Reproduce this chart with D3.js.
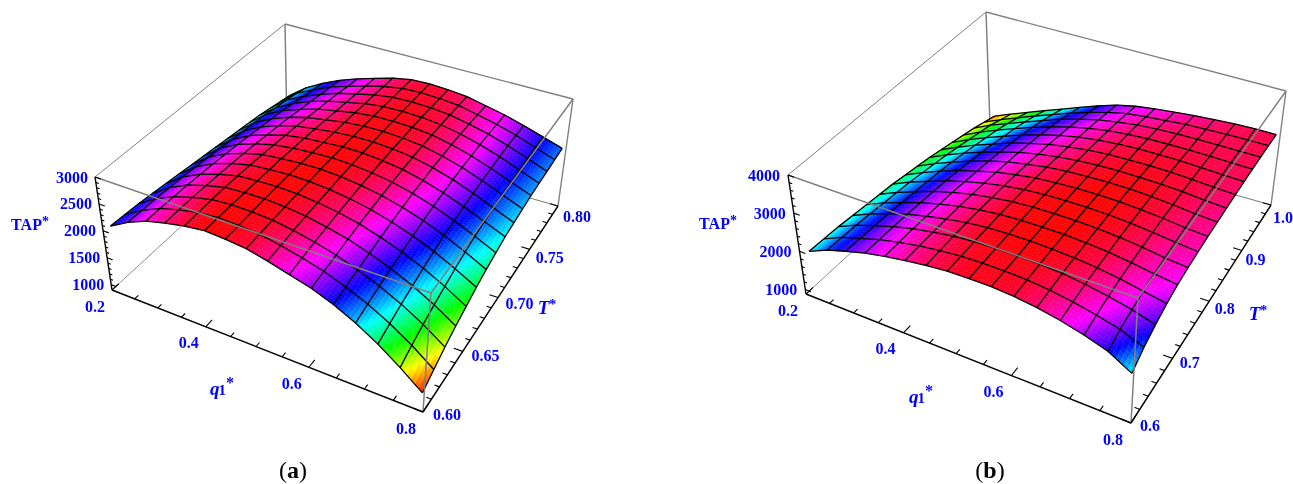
<!DOCTYPE html>
<html><head><meta charset="utf-8">
<script src="https://cdn.jsdelivr.net/npm/d3@7"></script>
<style>html,body{margin:0;padding:0;background:#fff}svg{display:block}</style></head>
<body><svg id="c" width="1293" height="484"></svg>
<script>
// TAP* values: one list per q1* mesh line (q1* rising), each running along T* from low to high
const tapA = [
[2145,2130,2115,2085,2055,2025,1995,1965,1935,1905,1875,1845,1815,1770,1725,1680],
[2340,2332,2325,2310,2295,2272,2250,2220,2190,2160,2130,2100,2055,2025,1980,1920],
[2490,2490,2482,2475,2460,2445,2422,2400,2370,2340,2310,2280,2235,2190,2145,2100],
[2580,2588,2588,2580,2572,2558,2542,2520,2490,2468,2438,2400,2370,2325,2295,2250],
[2655,2662,2670,2670,2662,2648,2632,2610,2588,2565,2535,2505,2475,2445,2400,2370],
[2700,2700,2700,2692,2685,2678,2670,2655,2640,2618,2595,2572,2550,2528,2505,2475],
[2678,2685,2692,2700,2700,2700,2692,2685,2670,2660,2650,2640,2625,2610,2590,2575],
[2640,2655,2670,2678,2685,2692,2700,2700,2695,2690,2685,2680,2670,2660,2650,2640],
[2550,2580,2610,2632,2648,2662,2678,2685,2692,2692,2690,2685,2680,2672,2665,2655],
[2445,2490,2528,2558,2588,2610,2632,2648,2662,2670,2672,2675,2670,2660,2650,2635],
[2340,2385,2425,2468,2505,2535,2565,2588,2610,2625,2632,2635,2630,2625,2615,2600],
[2190,2240,2290,2340,2385,2430,2468,2498,2520,2542,2550,2558,2558,2550,2535,2520],
[2005,2075,2135,2195,2250,2300,2345,2380,2405,2430,2445,2455,2462,2462,2452,2440],
[1780,1870,1950,2020,2085,2145,2195,2235,2265,2290,2310,2325,2340,2345,2345,2335],
[1515,1630,1730,1815,1890,1960,2020,2070,2110,2135,2160,2180,2195,2210,2215,2220],
[1225,1350,1470,1575,1665,1755,1830,1890,1950,1980,2010,2040,2055,2070,2085,2100]];
const tapB = [
[2100,2082,2064,2028,1992,1956,1920,1866,1812,1758,1686,1614,1542,1470,1380,1290],
[2316,2298,2280,2244,2208,2172,2136,2082,2028,1974,1902,1830,1758,1686,1578,1470],
[2478,2460,2442,2424,2388,2352,2316,2280,2226,2172,2100,2028,1956,1866,1758,1650],
[2622,2613,2604,2586,2559,2532,2496,2460,2406,2352,2280,2208,2136,2046,1945,1830],
[2730,2730,2730,2712,2694,2676,2640,2604,2568,2514,2460,2388,2316,2226,2118,2005],
[2820,2829,2829,2820,2811,2793,2766,2739,2703,2658,2604,2550,2478,2406,2298,2190],
[2892,2901,2910,2910,2901,2883,2865,2838,2802,2766,2730,2676,2622,2550,2460,2370],
[2946,2955,2964,2964,2964,2955,2937,2919,2892,2856,2820,2784,2730,2676,2604,2532],
[2964,2973,2982,2991,2991,2991,2982,2964,2946,2919,2892,2856,2820,2766,2712,2640],
[2964,2973,2982,3000,3000,3000,3000,2991,2973,2955,2937,2910,2874,2838,2775,2712],
[2928,2955,2973,2982,3000,3000,3000,3000,2991,2973,2955,2937,2910,2874,2820,2766],
[2856,2901,2937,2955,2973,2982,2991,2991,2991,2973,2964,2946,2919,2901,2865,2820],
[2748,2811,2865,2901,2928,2946,2955,2964,2973,2964,2955,2946,2928,2910,2883,2856],
[2604,2694,2766,2820,2856,2883,2901,2919,2928,2937,2937,2928,2919,2910,2901,2892],
[2424,2550,2640,2712,2766,2802,2838,2856,2874,2892,2901,2910,2910,2910,2910,2910],
[2100,2316,2478,2604,2694,2748,2784,2820,2838,2856,2874,2892,2901,2910,2910,2910]];

const qTicksMajor = [0.2,0.4,0.6,0.8];
const tTicksMajorA = [0.60,0.65,0.70,0.75,0.80];
const tTicksMajorB = [0.6,0.7,0.8,0.9,1.0];
const zTicksMajorA = [1000,1500,2000,2500,3000];
const zTicksMajorB = [1000,2000,3000,4000];

const panels = [
 {tap:tapA, qDom:[0.2,0.8], tDom:[0.6,0.8], zDom:[900,3000], hueDom:[1200,2700],
  uSpan:[0.03,0.995], vSpan:[0,0.975],
  qMajor:qTicksMajor, qStep:0.05, tMajor:tTicksMajorA, tStep:0.01, zMajor:zTicksMajorA, zStep:100, tFmt:".2f",
  floor:[[112,290],[423,412],[558,206],[287,129]], top:[[95,177],[431,293],[573,99],[285,24]],
  qOff:[-17,16], tOff0:[24,2], tOff1:[19,10], zOff:-7,
  tapPos:[30,224], q1Pos:[222,388], tStarPos:[547,307], cap:"a", capX:293},
 {tap:tapB, qDom:[0.2,0.8], tDom:[0.6,1.0], zDom:[880,4000], hueDom:[1200,3000],
  uSpan:[0.035,0.995], vSpan:[0,0.975],
  qMajor:qTicksMajor, qStep:0.05, tMajor:tTicksMajorB, tStep:0.02, zMajor:zTicksMajorB, zStep:200, tFmt:".1f",
  floor:[[806,294],[1131,423],[1271,205],[990,125]], top:[[788,175],[1138,298],[1286,91],[986,12]],
  qOff:[-18,16], tOff0:[19,2], tOff1:[12,12], zOff:-8,
  tapPos:[718,223], q1Pos:[921,396], tStarPos:[1258,313], cap:"b", capX:990}
];

function homography(p){
  const [[x0,y0],[x1,y1],[x2,y2],[x3,y3]] = p;
  const dx1=x1-x2,dx2=x3-x2,sx=x0-x1+x2-x3,dy1=y1-y2,dy2=y3-y2,sy=y0-y1+y2-y3;
  const den=dx1*dy2-dx2*dy1;
  const g=(sx*dy2-dx2*sy)/den,h=(dx1*sy-sx*dy1)/den;
  const a=x1-x0+g*x1,b=x3-x0+h*x3,d=y1-y0+g*y1,e=y3-y0+h*y3;
  return (u,v)=>{const w=g*u+h*v+1;return [(a*u+b*v+x0)/w,(d*u+e*v+y0)/w];};
}

const svg = d3.select("#c");
const BLUE="#0000ff", GREY="#808080", SUB=6;
const root = svg.append("g").style("filter","blur(0.45px)");

panels.forEach(P=>{
  const g = root.append("g");
  const H0=homography(P.floor), H1=homography(P.top);
  const qS=d3.scaleLinear().domain(P.qDom).range([0,1]);
  const tS=d3.scaleLinear().domain(P.tDom).range([0,1]);
  const zS=d3.scaleLinear().domain(P.zDom).range([0,1]);
  const hue=d3.scaleLinear().domain(P.hueDom).range([0,360]).clamp(true);
  const proj=(u,v,z)=>{const a=H0(u,v),b=H1(u,v),f=zS(z);return [a[0]+(b[0]-a[0])*f,a[1]+(b[1]-a[1])*f];};
  const line=d3.line();
  const n=P.tap.length-1, m=P.tap[0].length-1;
  const uOf=d3.scaleLinear().domain([0,n]).range(P.uSpan);
  const vOf=d3.scaleLinear().domain([0,m]).range(P.vSpan);
  const Z=(j,i)=>P.tap[j][i];
  const [A,B,C,D]=P.floor, [A1,B1,C1,D1]=P.top;

  // back box edges
  const back=[[A,D,0.9],[D,C,1.1],[A1,D1,1],[D1,C1,1.4],[C,C1,1.4],[D,D1,1.5]];
  g.append("g").selectAll("path").data(back).join("path")
    .attr("d",d=>line([d[0],d[1]])).attr("stroke",GREY).attr("stroke-width",d=>d[2]).attr("fill","none");

  // surface, far cells first
  const quads=[];
  for(let i=m-1;i>=0;i--) for(let j=0;j<n;j++){
    for(let si=SUB-1;si>=0;si--) for(let sj=0;sj<SUB;sj++){
      const val=(a,b)=>{ // bilinear inside the mesh cell
        const z00=Z(j,i),z10=Z(j+1,i),z01=Z(j,i+1),z11=Z(j+1,i+1);
        return z00*(1-a)*(1-b)+z10*a*(1-b)+z01*(1-a)*b+z11*a*b;};
      const pt=(a,b)=>proj(uOf(j+a),vOf(i+b),val(a,b));
      const a0=sj/SUB,a1=(sj+1)/SUB,b0=si/SUB,b1=(si+1)/SUB;
      quads.push({p:[pt(a0,b0),pt(a1,b0),pt(a1,b1),pt(a0,b1)],z:val((a0+a1)/2,(b0+b1)/2)});
    }
  }
  g.append("g").selectAll("path").data(quads).join("path")
    .attr("d",d=>line(d.p)+"Z")
    .attr("fill",d=>d3.hsl(hue(d.z),1,0.5).formatRgb())
    .attr("stroke",d=>d3.hsl(hue(d.z),1,0.5).formatRgb())
    .attr("stroke-width",0.5);

  // mesh
  const meshLines=[];
  for(let j=0;j<=n;j++) meshLines.push(d3.range(m+1).map(i=>proj(uOf(j),vOf(i),Z(j,i))));
  for(let i=0;i<=m;i++) meshLines.push(d3.range(n+1).map(j=>proj(uOf(j),vOf(i),Z(j,i))));
  g.append("g").selectAll("path").data(meshLines).join("path")
    .attr("d",d=>line(d)).attr("fill","none").attr("stroke","#000").attr("stroke-width",1.3);

  // front box edges over the surface
  const front=[[A1,B1],[B1,C1],[B1,B]];
  g.append("g").selectAll("path").data(front).join("path")
    .attr("d",d=>line(d)).attr("stroke",GREY).attr("stroke-width",1.5).attr("fill","none");

  // black axes
  const axes=[[A,B],[B,C],[A,A1]];
  g.append("g").selectAll("path").data(axes).join("path")
    .attr("d",d=>line(d)).attr("stroke","#000").attr("stroke-width",1.4).attr("fill","none");

  const isMajor=(v,list)=>list.some(t=>Math.abs(t-v)<1e-6);
  const seq=(a,b,s)=>d3.range(0,Math.round((b-a)/s)+1).map(k=>a+k*s);
  const tickPaths=[];
  seq(P.qDom[0],P.qDom[1],P.qStep).forEach(q=>{
    const L=isMajor(q,P.qMajor)?0.032:0.018;
    tickPaths.push([H0(qS(q),0),H0(qS(q),L)]);});
  seq(P.tDom[0],P.tDom[1],P.tStep).forEach(t=>{
    const L=isMajor(t,P.tMajor)?0.026:0.014;
    tickPaths.push([H0(1,tS(t)),H0(1-L,tS(t))]);});
  seq(Math.ceil(P.zDom[0]/P.zStep)*P.zStep,P.zDom[1],P.zStep).forEach(z=>{
    const L=isMajor(z,P.zMajor)?0.02:0.01;
    tickPaths.push([proj(0,0,z),proj(L,0,z)]);});
  g.append("g").selectAll("path").data(tickPaths).join("path")
    .attr("d",d=>line(d)).attr("stroke","#000").attr("stroke-width",1.1).attr("fill","none");

  const labelStyle=s=>s.attr("font-family","'Liberation Serif',serif").attr("font-weight","bold")
    .attr("font-size",16).attr("fill",BLUE).attr("dominant-baseline","central");
  g.append("g").selectAll("text").data(P.qMajor).join("text")
    .attr("x",q=>H0(qS(q),0)[0]+P.qOff[0]).attr("y",q=>H0(qS(q),0)[1]+P.qOff[1])
    .attr("text-anchor","middle").text(d3.format(".1f")).call(labelStyle);
  const tOffX=d3.scaleLinear().domain(P.tDom).range([P.tOff0[0],P.tOff1[0]]);
  const tOffY=d3.scaleLinear().domain(P.tDom).range([P.tOff0[1],P.tOff1[1]]);
  g.append("g").selectAll("text").data(P.tMajor).join("text")
    .attr("x",t=>H0(1,tS(t))[0]+tOffX(t)).attr("y",t=>H0(1,tS(t))[1]+tOffY(t))
    .attr("text-anchor","middle").text(d3.format(P.tFmt)).call(labelStyle);
  g.append("g").selectAll("text").data(P.zMajor).join("text")
    .attr("x",z=>proj(0,0,z)[0]+P.zOff).attr("y",z=>proj(0,0,z)[1])
    .attr("text-anchor","end").text(d=>d).call(labelStyle);

  const tap=g.append("text").attr("x",P.tapPos[0]).attr("y",P.tapPos[1]).attr("text-anchor","middle")
    .attr("font-family","'Liberation Serif',serif").attr("font-weight","bold").attr("font-size",16)
    .attr("fill",BLUE).attr("dominant-baseline","central").text("TAP");
  tap.append("tspan").attr("font-size",14).attr("dy",-3).text("*");
  const q1=g.append("text").attr("x",P.q1Pos[0]).attr("y",P.q1Pos[1]).attr("text-anchor","middle")
    .attr("font-family","'Liberation Serif',serif").attr("font-weight","bold").attr("font-size",19)
    .attr("fill",BLUE).attr("dominant-baseline","central");
  q1.append("tspan").attr("font-style","italic").text("q");
  q1.append("tspan").attr("font-size",15).attr("dx",-1).attr("dy",2).text("1");
  q1.append("tspan").attr("font-size",16).attr("dy",-8).text("*");
  const ts=g.append("text").attr("x",P.tStarPos[0]).attr("y",P.tStarPos[1]).attr("text-anchor","middle")
    .attr("font-family","'Liberation Serif',serif").attr("font-weight","bold").attr("font-style","italic").attr("font-size",19)
    .attr("fill",BLUE).attr("dominant-baseline","central").text("T");
  ts.append("tspan").attr("font-size",14).attr("dy",-3).attr("font-style","normal").text("*");

  const cap=svg.append("text").attr("x",P.capX).attr("y",470).attr("text-anchor","middle")
    .attr("font-family","'Liberation Serif',serif").attr("font-size",24).attr("fill","#000")
    .attr("dominant-baseline","central").style("filter","blur(0.3px)");
  cap.append("tspan").text("(");
  cap.append("tspan").attr("font-weight","bold").text(P.cap);
  cap.append("tspan").text(")");
});
</script></body></html>
